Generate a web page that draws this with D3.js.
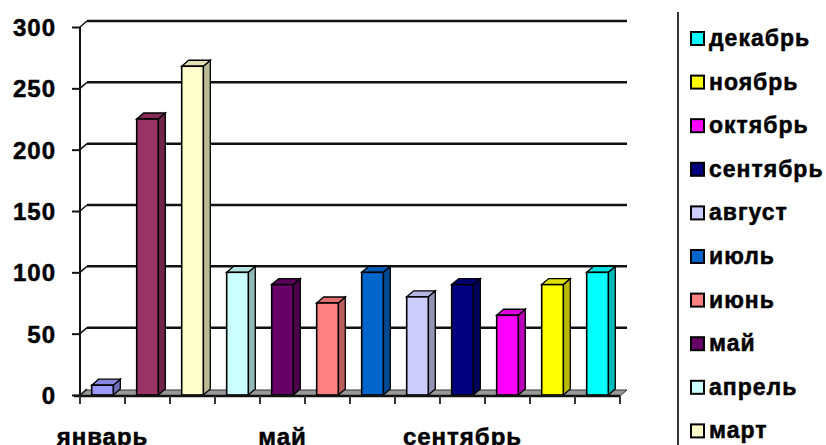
<!DOCTYPE html>
<html>
<head>
<meta charset="utf-8">
<script src="https://cdn.jsdelivr.net/npm/d3@7"></script>
<style>
  html, body { margin: 0; padding: 0; background: #fff; }
  svg { display: block; }
  text { font-family: "Liberation Sans", Arial, sans-serif; font-weight: bold; fill: #000; stroke: #000; stroke-width: 0.5px; letter-spacing: 1px; }
</style>
</head>
<body>
<svg id="chart" width="826" height="445"></svg>
<script>
const months = ["январь","февраль","март","апрель","май","июнь","июль","август","сентябрь","октябрь","ноябрь","декабрь"];
const values = [8, 225, 268, 100, 90, 75, 100, 80, 90, 65, 90, 100];
const colors = ["#9999FF","#993366","#FFFFCC","#CCFFFF","#660066","#FF8080","#0066CC","#CCCCFF","#000080","#FF00FF","#FFFF00","#00FFFF"];
const yTicks = [0, 50, 100, 150, 200, 250, 300];
const xLabelIdx = [0, 4, 8];

const W = 826, H = 445;
const svg = d3.select("#chart");

const x0 = 80, x1 = 620;
const yBase = 395, yTop = 27;
const DX = 7, DY = 6;

const x = d3.scaleBand().domain(months).range([x0, x1]).paddingInner(0).paddingOuter(0);
const y = d3.scaleLinear().domain([0, 300]).range([yBase, yTop]);

// back wall gridlines
const grid = svg.append("g");
grid.selectAll("line.g").data(yTicks.filter(d => d > 0)).join("line")
  .attr("x1", x0 + DX).attr("x2", x1 + DX)
  .attr("y1", d => y(d) - DY).attr("y2", d => y(d) - DY)
  .attr("stroke", "#111").attr("stroke-width", 2.5);
// diagonal connectors on left wall
grid.selectAll("line.d").data(yTicks).join("line")
  .attr("x1", x0).attr("x2", x0 + DX)
  .attr("y1", d => y(d)).attr("y2", d => y(d) - DY)
  .attr("stroke", "#111").attr("stroke-width", 1.5);

// floor
svg.append("path")
  .attr("d", `M${x0},${yBase+1}L${x0+DX},${yBase+1-DY}L${x1+DX},${yBase+1-DY}L${x1},${yBase+1}Z`)
  .attr("fill", "#999").attr("stroke", "#333").attr("stroke-width", 1);

// bars
const bw = x.bandwidth() * 0.48;
const bars = svg.append("g").selectAll("g").data(months).join("g");
bars.each(function(m, i) {
  const g = d3.select(this);
  const c = d3.color(colors[i]);
  const bx = x(m) + (x.bandwidth() - bw) / 2;
  const bx2 = bx + bw;
  const yt = y(values[i]);
  const yb = y(0);
  g.append("path")
    .attr("d", `M${bx2},${yt}L${bx2+DX},${yt-DY}L${bx2+DX},${yb-DY}L${bx2},${yb}Z`)
    .attr("fill", c.darker(0.9)).attr("stroke", "#000").attr("stroke-width", 1.3);
  g.append("path")
    .attr("d", `M${bx},${yt}L${bx+DX},${yt-DY}L${bx2+DX},${yt-DY}L${bx2},${yt}Z`)
    .attr("fill", c.darker(0.35)).attr("stroke", "#000").attr("stroke-width", 1.3);
  g.append("rect")
    .attr("x", bx).attr("y", yt).attr("width", bw).attr("height", yb - yt)
    .attr("fill", c).attr("stroke", "#000").attr("stroke-width", 1.6);
});

// y axis
const yAxis = svg.append("g").attr("transform", `translate(${x0},0)`)
  .call(d3.axisLeft(y).tickValues(yTicks).tickSize(8).tickPadding(16).tickFormat(d3.format("d")));
yAxis.select(".domain").attr("stroke", "#111").attr("stroke-width", 2).attr("d", `M0,${y(0)+1}V${y(300)}`);
yAxis.selectAll(".tick line").attr("stroke", "#111").attr("stroke-width", 2);
yAxis.selectAll(".tick text").style("font-size", "24px").style("font-family", "Liberation Sans, Arial, sans-serif")
  .style("font-weight", "bold").attr("fill", "#000").attr("dy", "0.36em");

// x axis base line
svg.append("line").attr("x1", x0 - 6).attr("x2", x1).attr("y1", yBase + 1).attr("y2", yBase + 1)
  .attr("stroke", "#111").attr("stroke-width", 2.5);
// category boundary ticks
const bounds = months.map(m => x(m)).concat([x1]);
svg.append("g").selectAll("line").data(bounds).join("line")
  .attr("x1", d => d).attr("x2", d => d).attr("y1", yBase + 1).attr("y2", yBase + 9)
  .attr("stroke", "#333").attr("stroke-width", 2);
// category labels
svg.append("g").selectAll("text").data(xLabelIdx).join("text")
  .attr("x", i => x(months[i]) + x.bandwidth() / 2)
  .attr("y", 445)
  .attr("text-anchor", "middle")
  .style("font-size", "24px")
  .text(i => months[i]);

// legend
svg.append("line").attr("x1", 678).attr("x2", 678).attr("y1", 12).attr("y2", H)
  .attr("stroke", "#333").attr("stroke-width", 2);
const legendOrder = d3.range(months.length).reverse();
const lg = svg.append("g").selectAll("g").data(legendOrder).join("g")
  .attr("transform", (d, k) => `translate(691,${38.5 + k * 43.6})`);
lg.append("rect").attr("x", 0).attr("y", -6.5).attr("width", 13).attr("height", 13)
  .attr("fill", d => colors[d]).attr("stroke", "#000").attr("stroke-width", 2);
lg.append("text").attr("x", 18).attr("y", 7.5)
  .style("font-size", "23px")
  .text(d => months[d]);
</script>
</body>
</html>
